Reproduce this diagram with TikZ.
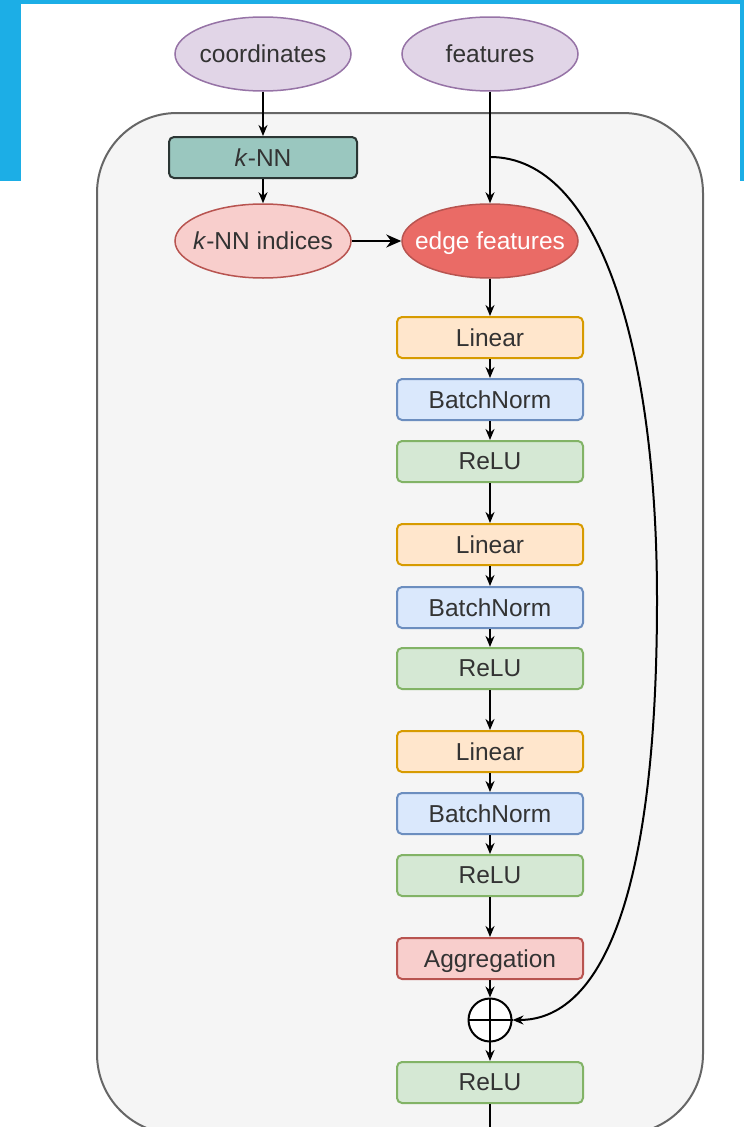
\documentclass[tikz,border=0pt]{standalone}
\usepackage{fontspec}
\setmainfont{Liberation Sans}
\usepackage{tikz}
\usetikzlibrary{arrows.meta,shapes.geometric}

\definecolor{framecol}{HTML}{1CAEE6}
\definecolor{boxfill}{HTML}{F5F5F5}
\definecolor{boxline}{HTML}{666666}
\definecolor{purpfill}{HTML}{E1D5E7}
\definecolor{purpline}{HTML}{9673A6}
\definecolor{knnfill}{HTML}{9AC7BF}
\definecolor{knnline}{HTML}{2B3634}
\definecolor{pinkfill}{HTML}{F8CECC}
\definecolor{pinkline}{HTML}{B85450}
\definecolor{redfill}{HTML}{EA6B66}
\definecolor{linfill}{HTML}{FFE6CC}
\definecolor{linline}{HTML}{D79B00}
\definecolor{bnfill}{HTML}{DAE8FC}
\definecolor{bnline}{HTML}{6C8EBF}
\definecolor{relufill}{HTML}{D5E8D4}
\definecolor{reluline}{HTML}{82B366}
\definecolor{txt}{HTML}{333333}

\tikzset{
	lbl/.style={font=\fontsize{24.5}{29}\selectfont, text=txt, text depth=0pt},
	oval/.style={ellipse, draw, line width=1.5pt, minimum width=176pt, minimum height=74pt, inner sep=0pt, lbl},
	block/.style={rectangle, rounded corners=5pt, draw, line width=2pt, minimum width=186pt, minimum height=41pt, inner sep=0pt, lbl},
	linbox/.style={block, fill=linfill, draw=linline},
	bnbox/.style={block, fill=bnfill, draw=bnline},
	relubox/.style={block, fill=relufill, draw=reluline},
	arr/.style={-{Stealth[length=11pt,width=9pt]}, line width=2pt},
}

\begin{document}
\begin{tikzpicture}[x=1pt, y=-1pt]
		%%%%% START %%%%%
		\useasboundingbox (0,0) rectangle (744,1127);
		
		\fill[framecol] (0,0) rectangle (21,181);
		\fill[framecol] (0,0) rectangle (744,4);
		\fill[framecol] (740,0) rectangle (744,181);
		
		\draw[fill=boxfill, draw=boxline, line width=2pt, rounded corners=80pt] (97,113) rectangle (703,1134);
		
		\node[oval, fill=purpfill, draw=purpline] (coords) at (263,54) {\makebox[0pt]{coordinates}};
		\node[oval, fill=purpfill, draw=purpline] (feats) at (490,54) {\makebox[0pt]{features}};
		
		\node[block, fill=knnfill, draw=knnline, minimum width=188pt] (knn) at (263,157.5) {\textit{k}-NN};
		\node[oval, fill=pinkfill, draw=pinkline] (knnidx) at (263,241) {\makebox[0pt]{\textit{k}-NN indices}};
		\node[oval, fill=redfill, draw=pinkline, text=white] (edgefeat) at (490,241) {\makebox[0pt]{edge features}};
		
		\node[linbox] (lin1) at (490,337.5) {Linear};
		\node[bnbox] (bn1) at (490,399.5) {BatchNorm};
		\node[relubox] (relu1) at (490,461.5) {ReLU};
		
		\node[linbox] (lin2) at (490,544.5) {Linear};
		\node[bnbox] (bn2) at (490,607.5) {BatchNorm};
		\node[relubox] (relu2) at (490,668.5) {ReLU};
		
		\node[linbox] (lin3) at (490,751.5) {Linear};
		\node[bnbox] (bn3) at (490,813.5) {BatchNorm};
		\node[relubox] (relu3) at (490,875.5) {ReLU};
		
		\node[block, fill=pinkfill, draw=pinkline] (aggr) at (490,958.5) {Aggregation};
		\node[circle, draw, fill=white, line width=2pt, minimum size=43pt, inner sep=0pt] (plus) at (490,1020) {};
		\draw[line width=2pt] (plus.north) -- (plus.south) (plus.west) -- (plus.east);
		\node[relubox] (relu4) at (490,1082.5) {ReLU};
		
		\coordinate (split) at (490,157);
		\coordinate (out) at (490,1145);
		
		\draw[arr] (coords) -- (knn);
		\draw[arr] (knn) -- (knnidx);
		\draw[arr] (feats) -- (edgefeat);
		\draw[-{Stealth[length=15pt,width=13pt]}, line width=2pt] (knnidx) -- (edgefeat);
		\draw[arr] (edgefeat) -- (lin1);
		\draw[arr] (lin1) -- (bn1);
		\draw[arr] (bn1) -- (relu1);
		\draw[arr] (relu1) -- (lin2);
		\draw[arr] (lin2) -- (bn2);
		\draw[arr] (bn2) -- (relu2);
		\draw[arr] (relu2) -- (lin3);
		\draw[arr] (lin3) -- (bn3);
		\draw[arr] (bn3) -- (relu3);
		\draw[arr] (relu3) -- (aggr);
		\draw[arr] (aggr) -- (plus);
		\draw[arr] (plus) -- (relu4);
		\draw[line width=2pt] (relu4) -- (out);
		
		\draw[arr] (split) .. controls (600,157) and (657,350) .. (657,600) .. controls (657,900) and (600,1020) .. (plus.east);
		%%%%% END %%%%%
	\end{tikzpicture}
\end{document}
